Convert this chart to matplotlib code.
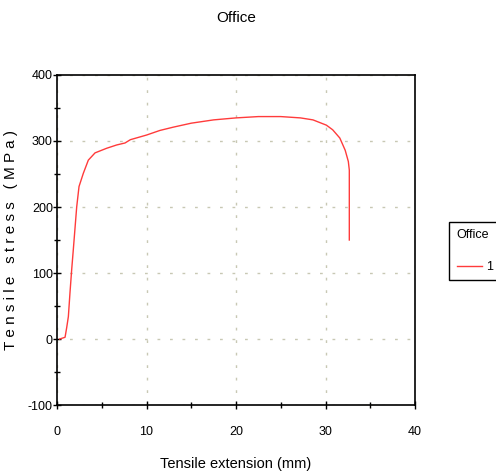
import matplotlib
matplotlib.use("Agg")
import matplotlib.pyplot as plt
from matplotlib.ticker import MultipleLocator

plt.rcParams['font.family'] = ['Liberation Sans', 'DejaVu Sans']
plt.rcParams['axes.unicode_minus'] = False

# tensile test curve
extension = [0.3, 0.9, 1.08, 1.27, 1.45, 1.64, 1.82, 2.2, 2.46, 2.94, 3.5, 4.25,
             5.55, 6.67, 7.6, 8.2, 10.0, 11.5, 13.0, 15.0, 17.5, 20.0, 22.5, 25.0,
             27.2, 28.6, 30.1, 30.8, 31.6, 32.2, 32.55, 32.66, 32.66]
stress = [0, 2.6, 17, 34, 70, 105, 135, 200, 231, 251, 271, 282,
          289, 294, 297, 302, 309, 316, 321, 327, 332, 335, 337, 337,
          335, 332, 324, 317, 304.5, 286, 269, 256, 150]
series_name = '1'
legend_title = 'Office'

fig = plt.figure(figsize=(4.96, 4.75), dpi=100)
ax = fig.add_axes([57/496, 70/475, 358/496, 330/475])

line, = ax.plot(extension, stress, color='#ff3b3b', lw=1.0)

ax.set_xlim(0, 40)
ax.set_ylim(-100, 400)
ax.xaxis.set_major_locator(MultipleLocator(10))
ax.xaxis.set_minor_locator(MultipleLocator(5))
ax.yaxis.set_major_locator(MultipleLocator(100))
ax.yaxis.set_minor_locator(MultipleLocator(50))
ax.tick_params(which='both', direction='inout', labelsize=9)
ax.tick_params(which='major', length=6, width=1)
ax.tick_params(which='minor', length=5, width=1)
ax.tick_params(axis='x', which='major', pad=12)
ax.tick_params(axis='y', which='major', pad=0)
ax.grid(True, which='major', color='#c8c8b4', linestyle=(0, (2, 7)), lw=1)
for s in ax.spines.values():
    s.set_linewidth(1.2)

ax.set_xlabel('Tensile extension (mm)', fontsize=10.5, labelpad=14)
ax.set_ylabel('T e n s i l e   s t r e s s   ( M P a )', fontsize=11)
ax.yaxis.set_label_coords(-39/358, 0.5)
fig.text(236/496, 1 - 18/475, 'Office', ha='center', va='center', fontsize=11)

leg = fig.legend([line], [series_name], title=legend_title,
                 loc='upper left', bbox_to_anchor=(449/496, 1 - 222/475),
                 fancybox=False, edgecolor='black', framealpha=1,
                 fontsize=9, title_fontsize=9, handlelength=2.0,
                 handletextpad=0.4, borderaxespad=0, borderpad=0.6,
                 labelspacing=0.9)
leg.get_frame().set_linewidth(1)
leg._legend_box.align = 'left'
leg._legend_box.sep = 14

fig.savefig('out.png', dpi=100)
